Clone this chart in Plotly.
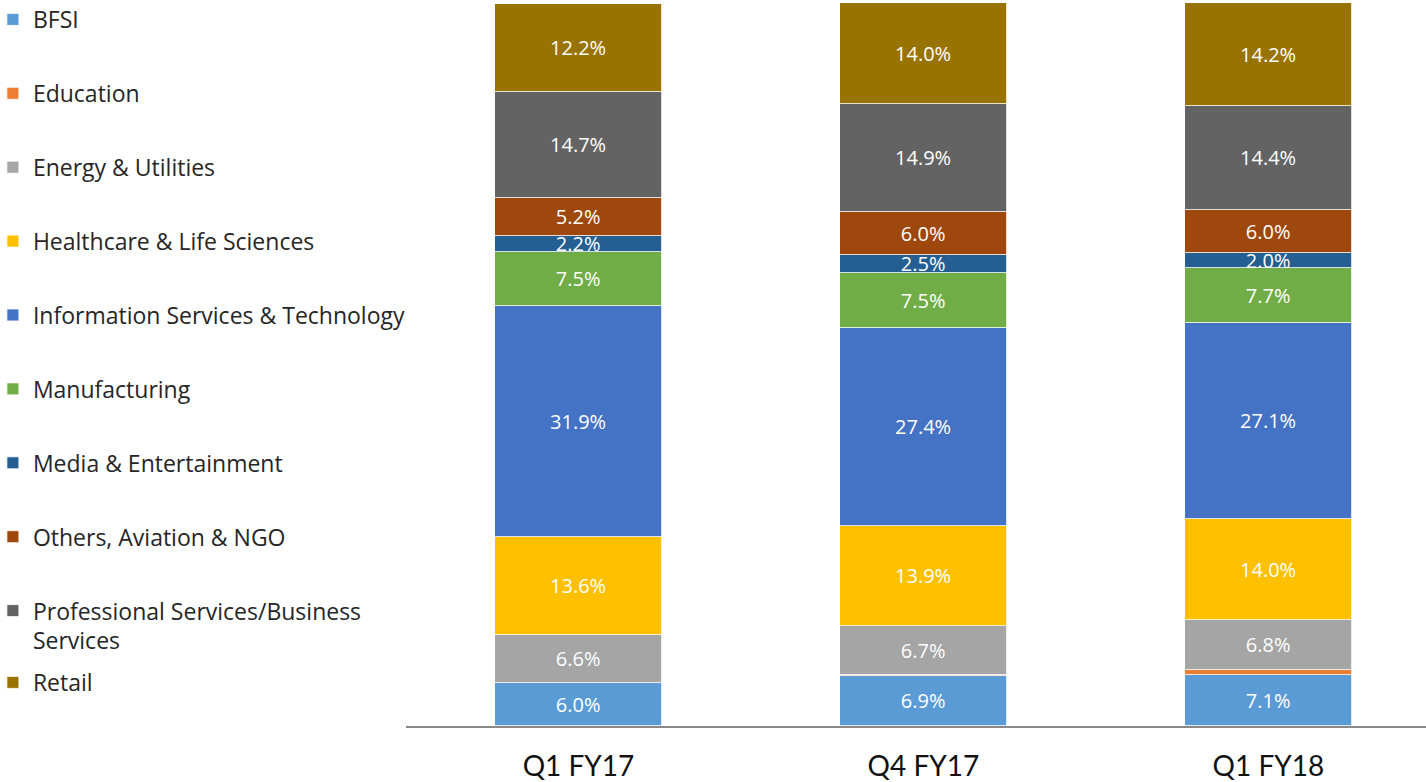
import plotly.graph_objects as go

quarters = ["Q1 FY17", "Q4 FY17", "Q1 FY18"]
segments = ["BFSI", "Education", "Energy & Utilities", "Healthcare & Life Sciences",
            "Information Services & Technology", "Manufacturing", "Media & Entertainment",
            "Others, Aviation & NGO", "Professional Services/Business<br>Services", "Retail"]
bfsi = [6.0, 6.9, 7.1]
education = [0.0, 0.2, 0.7]
energy = [6.6, 6.7, 6.8]
healthcare = [13.6, 13.9, 14.0]
ist = [31.9, 27.4, 27.1]
manufacturing = [7.5, 7.5, 7.7]
media = [2.2, 2.5, 2.0]
others = [5.2, 6.0, 6.0]
professional = [14.7, 14.9, 14.4]
retail = [12.2, 14.0, 14.2]
series = [bfsi, education, energy, healthcare, ist, manufacturing, media, others, professional, retail]
colors = ["#5B9BD5", "#ED7D31", "#A5A5A5", "#FFC000", "#4472C4", "#70AD47",
          "#255E91", "#9E480E", "#636363", "#997300"]
show_labels = [True, False, True, True, True, True, True, True, True, True]

fig = go.Figure()
for i, (name, vals, col) in enumerate(zip(segments, series, colors)):
    txt = [f"{v:.1f}%" for v in vals] if show_labels[i] else None
    fig.add_trace(go.Bar(
        x=quarters, y=vals, name=name, marker=dict(color=col, line=dict(color="white", width=0.8)),
        text=txt, textposition="inside" if show_labels[i] else "none",
        insidetextanchor="middle", textangle=0, constraintext="none",
        textfont=dict(family="Open Sans", size=20, color="white"),
        width=0.484, legendgroup=name,
        legend="legend2" if name == "Retail" else "legend",
        hoverinfo="name+y",
    ))

leg_common = dict(font=dict(family="Open Sans", size=23, color="#262626"), bgcolor="rgba(0,0,0,0)",
                  traceorder="grouped", valign="top", xanchor="left", yanchor="top",
                  maxheight=780)
fig.update_layout(
    width=1426, height=782,
    barmode="stack", bargap=0,
    margin=dict(l=406, r=0, t=3, b=56, autoexpand=False),
    paper_bgcolor="white", plot_bgcolor="white",
    xaxis=dict(range=[-0.5, 2.457], showline=True, linecolor="#898989", linewidth=2,
               ticks="", showgrid=False, ticklabelstandoff=14,
               tickfont=dict(family="Lato", size=28, color="#111111")),
    yaxis=dict(range=[0, 100], visible=False),
    legend=dict(x=-0.405, y=1.007, tracegroupgap=41, **leg_common),
    legend2=dict(x=-0.405, y=0.09, **leg_common),
)
fig.write_html("out.html", config={"displayModeBar": False},
               post_script="document.body.style.margin='0';")
